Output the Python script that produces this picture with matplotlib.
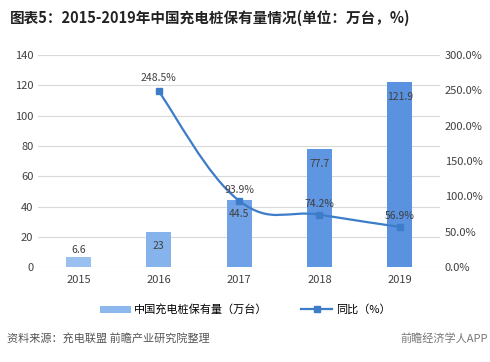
import matplotlib.pyplot as plt
import numpy as np
from matplotlib.path import Path
from matplotlib.patches import PathPatch
from matplotlib.lines import Line2D
from matplotlib.patches import Patch

plt.rcParams['font.family'] = ['Noto Sans CJK SC', 'DejaVu Sans']

# 数据
years = ['2015', '2016', '2017', '2018', '2019']
stock = [6.6, 23, 44.5, 77.7, 121.9]          # 保有量（万台）
yoy_years = ['2016', '2017', '2018', '2019']
yoy = [248.5, 93.9, 74.2, 56.9]               # 同比（%）
bar_colors = ['#9ac0ef', '#86b3ec', '#6fa2e6', '#5f96e2', '#5a92e0']
line_color = '#3d7cc9'

fig = plt.figure(figsize=(4.9, 3.62), dpi=100)
ax = fig.add_axes([0.078, 0.262, 0.82, 0.586])
ax2 = ax.twinx()

x = np.arange(len(years))
ax.bar(x, stock, width=0.31, color=bar_colors, zorder=2)
ax.set_xlim(-0.5, 4.5)
ax.set_ylim(0, 140)
ax.set_yticks(range(0, 141, 20))
ax.set_xticks(x)
ax.set_xticklabels(years)
ax.grid(axis='y', color='#d9d9d9', linewidth=0.8, zorder=0)
ax.set_axisbelow(True)

# 柱子标签
for i, v in enumerate(stock):
    if v < 10:
        ax.text(i, v + 1.5, f'{v:g}', ha='center', va='bottom', fontsize=7.5, color='#404040', zorder=4)
    else:
        ax.text(i, v - 6, f'{v:g}', ha='center', va='top', fontsize=7.5, color='#404040', zorder=4)

# 同比曲线（平滑）
xl = np.array([years.index(y) for y in yoy_years], dtype=float)
yl = np.array(yoy)
verts = [(xl[0], yl[0])]
codes = [Path.MOVETO]
t = 0.2
for k in range(len(xl) - 1):
    p0 = (xl[k - 1], yl[k - 1]) if k > 0 else (xl[k], yl[k])
    p1 = (xl[k], yl[k])
    p2 = (xl[k + 1], yl[k + 1])
    p3 = (xl[k + 2], yl[k + 2]) if k + 2 < len(xl) else p2
    c1 = (p1[0] + (p2[0] - p0[0]) * t, p1[1] + (p2[1] - p0[1]) * t)
    c2 = (p2[0] - (p3[0] - p1[0]) * t, p2[1] - (p3[1] - p1[1]) * t)
    verts += [c1, c2, p2]
    codes += [Path.CURVE4] * 3
ax2.add_patch(PathPatch(Path(verts, codes), facecolor='none', edgecolor=line_color, linewidth=1.6, zorder=3))
ax2.plot(xl, yl, linestyle='none', marker='s', markersize=4.5, color=line_color, zorder=4)

offs = [12, 8, 8, 8]
for xi, yi, o in zip(xl, yl, offs):
    ax2.text(xi, yi + o, f'{yi:.1f}%', ha='center', va='bottom', fontsize=7.5, color='#404040', zorder=5)

ax2.set_ylim(0, 300)
ax2.set_yticks(range(0, 301, 50))
ax2.set_yticklabels([f'{v:.1f}%' for v in range(0, 301, 50)])

for a in (ax, ax2):
    for s in a.spines.values():
        s.set_visible(False)
    a.tick_params(length=0, labelsize=8, colors='#404040')
ax.tick_params(axis='x', pad=6)

# 标题
fig.text(0.02, 0.95, '图表5：2015-2019年中国充电桩保有量情况(单位：万台，%)',
         fontsize=10.5, fontweight='bold', color='#222222', va='center')

# 图例
handles = [Patch(facecolor='#8db8ee', edgecolor='none'),
           Line2D([0], [0], color=line_color, linewidth=1.6, marker='s', markersize=4.5)]
fig.legend(handles, ['中国充电桩保有量（万台）', '同比（%）'], loc='center',
           bbox_to_anchor=(0.5, 0.145), ncol=2, frameon=False, fontsize=8,
           handlelength=2.8, handleheight=0.6, columnspacing=3.0, handletextpad=0.3)

# 来源
fig.text(0.015, 0.065, '资料来源：充电联盟 前瞻产业研究院整理', fontsize=8, color='#555555', va='center')
fig.text(0.995, 0.065, '前瞻经济学人APP', fontsize=8, color='#777777', va='center', ha='right')

fig.savefig('out.png', dpi=100)
